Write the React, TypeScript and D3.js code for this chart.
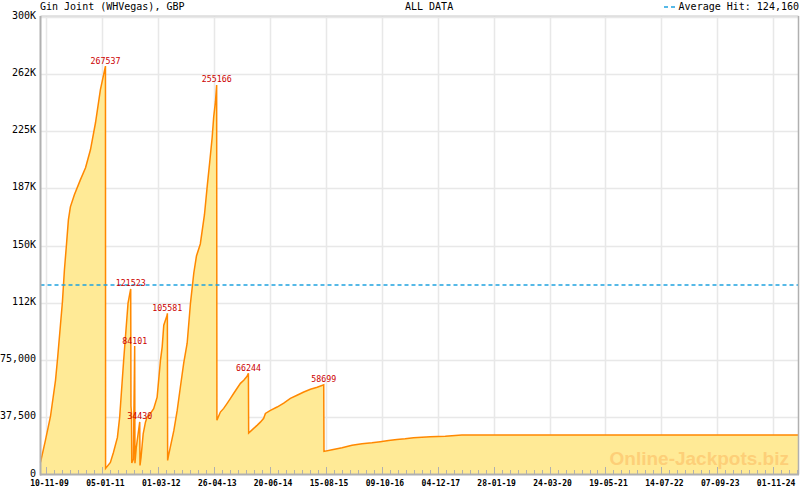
import { useEffect, useRef } from 'react';
import * as d3 from 'd3';

const title = 'Gin Joint (WHVegas), GBP';
const subtitle = 'ALL DATA';
const averageHit = 124160;
const watermark = 'Online-Jackpots.biz';

// jackpot readings (date, value in GBP)
const dates = [
  '2009-09-26', '2009-11-02', '2009-12-10', '2010-01-17', '2010-02-01', '2010-02-23',
  '2010-03-10', '2010-03-25', '2010-04-09', '2010-04-24', '2010-05-09', '2010-06-08',
  '2010-07-23', '2010-08-31', '2010-10-07', '2010-11-14', '2010-12-21', '2011-01-28',
  '2011-01-29', '2011-03-06', '2011-03-29', '2011-04-28', '2011-05-15', '2011-06-14',
  '2011-07-17', '2011-08-06', '2011-08-08', '2011-08-12', '2011-08-14', '2011-08-26',
  '2011-09-05', '2011-09-07', '2011-09-17', '2011-10-13', '2011-10-15', '2011-10-23',
  '2011-11-08', '2011-11-25', '2011-12-08', '2012-01-01', '2012-01-26', '2012-02-21',
  '2012-03-17', '2012-03-30', '2012-04-11', '2012-05-06', '2012-05-08', '2012-05-10',
  '2012-05-17', '2012-06-26', '2012-07-21', '2012-08-14', '2012-09-08', '2012-10-04',
  '2012-10-29', '2012-11-23', '2012-12-13', '2013-01-11', '2013-02-11', '2013-03-05',
  '2013-03-23', '2013-04-10', '2013-04-22', '2013-05-05', '2013-05-14', '2013-05-16',
  '2013-06-11', '2013-07-06', '2013-08-01', '2013-08-26', '2013-09-20', '2013-10-15',
  '2013-11-09', '2013-12-04', '2013-12-29', '2014-01-08', '2014-01-10', '2014-02-17',
  '2014-03-14', '2014-04-08', '2014-05-03', '2014-05-16', '2014-06-23', '2014-08-12',
  '2014-10-01', '2014-11-20', '2015-01-09', '2015-03-01', '2015-04-20', '2015-06-10',
  '2015-07-29', '2015-07-31', '2015-09-30', '2015-12-14', '2016-02-27', '2016-05-12',
  '2016-07-26', '2016-09-27', '2016-11-28', '2017-01-30', '2017-04-02', '2017-06-04',
  '2017-10-08', '2018-01-29', '2018-06-03', '2025-05-11',
];

const jackpots = [
  7900, 22300, 38000, 61700, 75500, 97800,
  113000, 134000, 150000, 166800, 175300, 183200,
  193000, 200900, 212700, 230400, 252100, 267537,
  4000, 7900, 14400, 24300, 37600, 74800,
  112300, 121523, 45000, 40000, 7500, 10000,
  84101, 7400, 17700, 34430, 5900, 11400,
  26700, 34300, 37600, 39900, 43100, 50700,
  74800, 83600, 97800, 104400, 105581, 9200,
  12500, 28900, 42000, 57300, 72900, 86000,
  112300, 132000, 143100, 151000, 170000, 189700,
  204800, 220600, 234400, 244200, 255166, 35500,
  40900, 43300, 46600, 49900, 53200, 56500,
  59700, 61700, 64300, 66244, 27100, 30200,
  32200, 34300, 36800, 40000, 42000, 44200,
  46800, 49900, 51900, 54000, 55800, 57100,
  58699, 15100, 16200, 17500, 19200, 20200,
  20800, 21500, 22300, 23000, 23400, 24100,
  24700, 25100, 25800, 25900,
];

const peakLabels = [267537, 121523, 84101, 34430, 105581, 255166, 66244, 58699];

const xTickLabels = [
  '10-11-09', '05-01-11', '01-03-12', '26-04-13', '20-06-14', '15-08-15', '09-10-16',
  '04-12-17', '28-01-19', '24-03-20', '19-05-21', '14-07-22', '07-09-23', '01-11-24',
];

const yTickValues = [0, 37500, 75000, 112500, 150000, 187500, 225000, 262500, 300000];
const yTickLabels = ['0', '37,500', '75,000', '112K', '150K', '187K', '225K', '262K', '300K'];

export default function App() {
  const svgRef = useRef<SVGSVGElement>(null);

  useEffect(() => {
    if (!svgRef.current) return;
    const svg = d3.select(svgRef.current);
    svg.selectAll('*').remove();

    const mono = 'DejaVu Sans Mono, monospace';
    const left = 40.5;
    const right = 798.5;
    const top = 16.5;
    const bottom = 474.5;
    const avgColor = '#1fa3e0';

    const parse = d3.timeParse('%Y-%m-%d');
    const parseTick = d3.timeParse('%d-%m-%y');
    const data = dates.map((d, i) => ({ date: parse(d) as Date, value: jackpots[i] }));

    const x = d3.scaleTime()
      .domain([data[0].date, data[data.length - 1].date])
      .range([left, right]);
    const y = d3.scaleLinear().domain([0, 300000]).range([bottom, top]);

    // gridlines
    const majors = xTickLabels.map((t) => x(parseTick(t) as Date));
    svg.append('g')
      .selectAll('line')
      .data(yTickValues.slice(1))
      .enter()
      .append('line')
      .attr('x1', left)
      .attr('x2', right)
      .attr('y1', (d) => Math.round(y(d)) + 0.5)
      .attr('y2', (d) => Math.round(y(d)) + 0.5)
      .attr('stroke', '#e8e8e8')
      .attr('stroke-width', 1.5);
    svg.append('g')
      .selectAll('line')
      .data(majors)
      .enter()
      .append('line')
      .attr('x1', (d) => Math.round(d) + 0.5)
      .attr('x2', (d) => Math.round(d) + 0.5)
      .attr('y1', top)
      .attr('y2', bottom)
      .attr('stroke', '#e8e8e8')
      .attr('stroke-width', 1.5);

    // area + line
    const area = d3.area<{ date: Date; value: number }>()
      .x((d) => x(d.date))
      .y0(bottom)
      .y1((d) => y(d.value));
    const line = d3.line<{ date: Date; value: number }>()
      .x((d) => x(d.date))
      .y((d) => y(d.value));

    svg.append('path').datum(data).attr('d', area).attr('fill', '#ffea96');

    svg.append('text')
      .attr('x', 789)
      .attr('y', 465)
      .attr('text-anchor', 'end')
      .attr('font-family', 'Liberation Sans, Arial, sans-serif')
      .attr('font-weight', 'bold')
      .attr('font-size', 19)
      .attr('fill', '#fdcf78')
      .text(watermark);

    svg.append('path')
      .datum(data)
      .attr('d', line)
      .attr('fill', 'none')
      .attr('stroke', '#ff8800')
      .attr('stroke-width', 1.5);

    // average line
    svg.append('line')
      .attr('x1', left)
      .attr('x2', right)
      .attr('y1', y(averageHit))
      .attr('y2', y(averageHit))
      .attr('stroke', avgColor)
      .attr('stroke-width', 1.5)
      .attr('stroke-dasharray', '4,3');

    // frame
    svg.append('line').attr('x1', left).attr('x2', right).attr('y1', 16).attr('y2', 16)
      .attr('stroke', '#c8c8c8').attr('stroke-width', 1);
    svg.append('line').attr('x1', 798.5).attr('x2', 798.5).attr('y1', 16).attr('y2', bottom)
      .attr('stroke', '#b0b0b0').attr('stroke-width', 1.5);
    svg.append('line').attr('x1', 40.5).attr('x2', 40.5).attr('y1', 16).attr('y2', 475.5)
      .attr('stroke', '#b0b0b0').attr('stroke-width', 2);
    svg.append('line').attr('x1', 40).attr('x2', 799).attr('y1', 474.5).attr('y2', 474.5)
      .attr('stroke', '#b0b0b0').attr('stroke-width', 2);

    // x ticks (7 minor steps per labelled step)
    const step = (majors[1] - majors[0]) / 7;
    const tickXs: { x: number; major: boolean }[] = [];
    for (let i = 0; i < majors.length; i++) {
      for (let j = 0; j < 7; j++) {
        const tx = majors[i] + j * step;
        if (tx < right) tickXs.push({ x: tx, major: j === 0 });
      }
    }
    svg.append('g')
      .selectAll('line')
      .data(tickXs)
      .enter()
      .append('line')
      .attr('x1', (d) => Math.round(d.x) + 0.5)
      .attr('x2', (d) => Math.round(d.x) + 0.5)
      .attr('y1', 474)
      .attr('y2', (d) => (d.major ? 467 : 470))
      .attr('stroke', '#b0b0b0')
      .attr('stroke-width', 1);

    svg.append('g')
      .selectAll('text')
      .data(xTickLabels)
      .enter()
      .append('text')
      .attr('x', (d, i) => majors[i] + 3)
      .attr('y', 486)
      .attr('text-anchor', 'middle')
      .attr('font-family', mono)
      .attr('font-size', 8)
      .attr('font-weight', 'bold')
      .attr('fill', '#000')
      .text((d) => d);

    // y labels
    svg.append('g')
      .selectAll('text')
      .data(yTickValues)
      .enter()
      .append('text')
      .attr('x', 36)
      .attr('y', (d) => y(d) + 2)
      .attr('text-anchor', 'end')
      .attr('font-family', mono)
      .attr('font-size', 10)
      .attr('fill', '#000')
      .text((d, i) => yTickLabels[i]);

    // peak annotations
    const peaks = data.filter((d) => peakLabels.includes(d.value));
    svg.append('g')
      .selectAll('text')
      .data(peaks)
      .enter()
      .append('text')
      .attr('x', (d) => x(d.date))
      .attr('y', (d) => y(d.value) - 2.5)
      .attr('text-anchor', 'middle')
      .attr('font-family', mono)
      .attr('font-size', 8.3)
      .attr('fill', '#cc0000')
      .text((d) => String(d.value));

    // header
    svg.append('text')
      .attr('x', 40)
      .attr('y', 10)
      .attr('font-family', mono)
      .attr('font-size', 10)
      .attr('fill', '#000')
      .text(title);
    svg.append('text')
      .attr('x', 405)
      .attr('y', 10)
      .attr('font-family', mono)
      .attr('font-size', 10)
      .attr('fill', '#000')
      .text(subtitle);
    svg.append('line')
      .attr('x1', 664)
      .attr('x2', 675)
      .attr('y1', 7)
      .attr('y2', 7)
      .attr('stroke', avgColor)
      .attr('stroke-width', 1.5)
      .attr('stroke-dasharray', '4,3');
    svg.append('text')
      .attr('x', 799)
      .attr('y', 10)
      .attr('text-anchor', 'end')
      .attr('font-family', mono)
      .attr('font-size', 10)
      .attr('fill', '#000')
      .text(`Average Hit: ${d3.format(',')(averageHit)}`);
  }, []);

  return (
    <svg
      ref={svgRef}
      width={800}
      height={490}
      style={{ position: 'absolute', left: 0, top: 0, background: '#fff' }}
    />
  );
}
